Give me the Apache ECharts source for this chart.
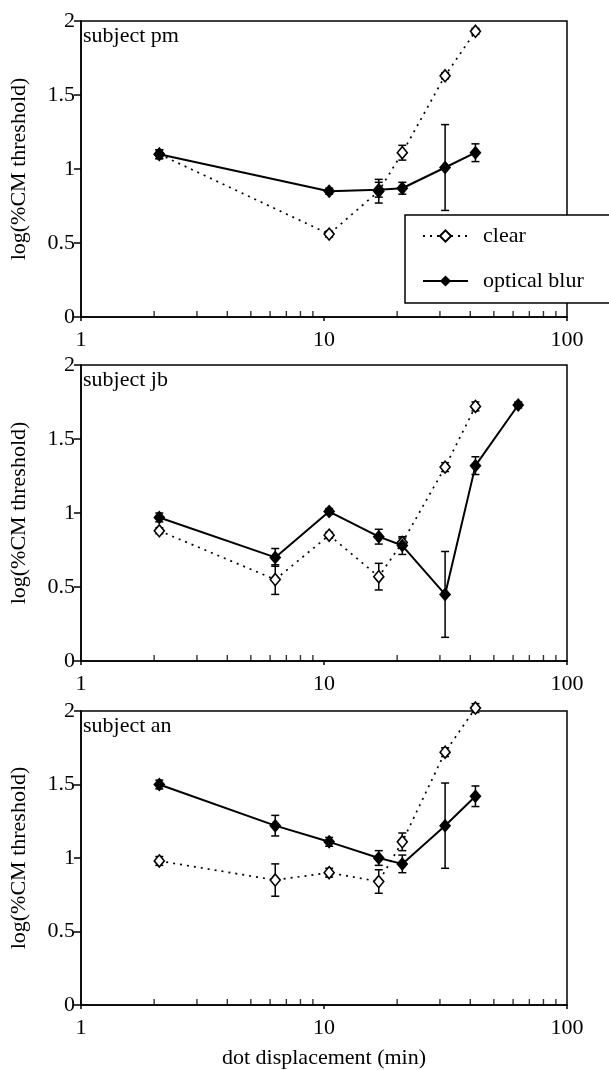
<!DOCTYPE html>
<html>
<head>
<meta charset="utf-8">
<script src="https://cdn.jsdelivr.net/npm/echarts@6/dist/echarts.min.js"></script>
<style>
  html, body { margin: 0; padding: 0; background: #fff; }
  #chart { width: 609px; height: 1070px; }
</style>
</head>
<body>
<div id="chart"></div>
<script>
// dot displacement (min) for each subject
const xPm = [2.1, 10.5, 16.8, 21, 31.5, 42];
const pmClear = [1.10, 0.56, 0.85, 1.11, 1.63, 1.93];
const pmClearErr = [0.03, 0.02, 0.08, 0.05, 0.02, 0.02];
const pmBlur = [1.10, 0.85, 0.86, 0.87, 1.01, 1.11];
const pmBlurErr = [0.03, 0.02, 0.05, 0.04, 0.29, 0.06];

const xJbClear = [2.1, 6.3, 10.5, 16.8, 21, 31.5, 42];
const jbClear = [0.88, 0.55, 0.85, 0.57, 0.80, 1.31, 1.72];
const jbClearErr = [0.02, 0.10, 0.02, 0.09, 0.03, 0.03, 0.03];
const xJbBlur = [2.1, 6.3, 10.5, 16.8, 21, 31.5, 42, 63];
const jbBlur = [0.97, 0.70, 1.01, 0.84, 0.78, 0.45, 1.32, 1.73];
const jbBlurErr = [0.03, 0.06, 0.02, 0.05, 0.06, 0.29, 0.06, 0.02];

const xAn = [2.1, 6.3, 10.5, 16.8, 21, 31.5, 42];
const anClear = [0.98, 0.85, 0.90, 0.84, 1.11, 1.72, 2.02];
const anClearErr = [0.03, 0.11, 0.03, 0.08, 0.06, 0.03, 0.03];
const anBlur = [1.50, 1.22, 1.11, 1.00, 0.96, 1.22, 1.42];
const anBlurErr = [0.03, 0.07, 0.03, 0.05, 0.06, 0.29, 0.07];

const subjects = ['subject pm', 'subject jb', 'subject an'];
const minorTicks = [2, 3, 4, 5, 6, 7, 8, 9, 20, 30, 40, 50, 60, 70, 80, 90];
const yTitle = 'log(%CM threshold)';
const xTitle = 'dot displacement (min)';

const FONT = 'Liberation Serif';
const FS = 22;
const gridTops = [21, 365, 711];
const gridHeight = 296;

const chart = echarts.init(document.getElementById('chart'));

const zip = (xs, ys) => xs.map((x, i) => [x, ys[i]]);

function errorSeries(xs, ys, errs, idx) {
    return {
        type: 'custom',
        xAxisIndex: idx,
        yAxisIndex: idx,
        silent: true,
        clip: false,
        z: 3,
        data: xs.map((x, i) => [x, ys[i] - errs[i], ys[i] + errs[i]]),
        encode: { x: 0, y: [1, 2] },
        renderItem: function (params, api) {
            const lo = api.coord([api.value(0), api.value(1)]);
            const hi = api.coord([api.value(0), api.value(2)]);
            const w = 4;
            const style = { stroke: '#000', lineWidth: 1.5 };
            return {
                type: 'group',
                children: [
                    { type: 'line', shape: { x1: lo[0], y1: lo[1], x2: hi[0], y2: hi[1] }, style: style },
                    { type: 'line', shape: { x1: lo[0] - w, y1: lo[1], x2: lo[0] + w, y2: lo[1] }, style: style },
                    { type: 'line', shape: { x1: hi[0] - w, y1: hi[1], x2: hi[0] + w, y2: hi[1] }, style: style }
                ]
            };
        }
    };
}

function clearSeries(data, idx) {
    return {
        name: 'clear',
        type: 'line',
        xAxisIndex: idx,
        yAxisIndex: idx,
        data: data,
        clip: false,
        symbol: 'diamond',
        symbolSize: [10, 12],
        lineStyle: { color: '#000', width: 1.7, type: [2, 5] },
        itemStyle: { color: '#fff', borderColor: '#000', borderWidth: 1.6 },
        z: 4
    };
}

function blurSeries(data, idx) {
    return {
        name: 'optical blur',
        type: 'line',
        xAxisIndex: idx,
        yAxisIndex: idx,
        data: data,
        clip: false,
        symbol: 'diamond',
        symbolSize: [12, 14],
        lineStyle: { color: '#000', width: 2 },
        itemStyle: { color: '#000', borderColor: '#000', borderWidth: 0 },
        z: 5
    };
}

function minorTickSeries(idx) {
    return {
        type: 'scatter',
        xAxisIndex: idx,
        yAxisIndex: idx,
        silent: true,
        symbol: 'rect',
        symbolSize: [1.4, 6],
        symbolOffset: [0, -3],
        itemStyle: { color: '#000' },
        data: minorTicks.map(v => [v, 0]),
        z: 6
    };
}

const grids = gridTops.map(top => ({
    left: 81, right: 42, top: top, height: gridHeight,
    show: true, borderColor: '#000', borderWidth: 1.5, backgroundColor: 'transparent'
}));

const xAxes = gridTops.map((t, i) => ({
    type: 'log',
    logBase: 10,
    gridIndex: i,
    min: 1,
    max: 100,
    name: i === 2 ? xTitle : '',
    nameLocation: 'middle',
    nameGap: 42,
    nameTextStyle: { fontFamily: FONT, fontSize: FS, color: '#000' },
    axisLine: { lineStyle: { color: '#000', width: 1.5 } },
    axisTick: { show: true, inside: false, length: 4, lineStyle: { color: '#000', width: 1.5 } },
    axisLabel: { fontFamily: FONT, fontSize: FS, color: '#000', margin: 12 },
    splitLine: { show: false },
    minorTick: { show: false }
}));

const yAxes = gridTops.map((t, i) => ({
    type: 'value',
    gridIndex: i,
    min: 0,
    max: 2,
    interval: 0.5,
    name: yTitle,
    nameLocation: 'middle',
    nameGap: 51,
    nameTextStyle: { fontFamily: FONT, fontSize: FS, color: '#000' },
    axisLine: { show: true, lineStyle: { color: '#000', width: 1.5 } },
    axisTick: { show: true, length: 7, lineStyle: { color: '#000', width: 1.5 } },
    axisLabel: { fontFamily: FONT, fontSize: FS, color: '#000', margin: 6 },
    splitLine: { show: false }
}));

const titles = subjects.map((s, i) => ({
    text: s,
    left: 83,
    top: gridTops[i] + 4,
    padding: 0,
    textStyle: { fontFamily: FONT, fontSize: FS, fontWeight: 'normal', color: '#000' }
}));

const series = [
    errorSeries(xPm, pmClear, pmClearErr, 0),
    errorSeries(xPm, pmBlur, pmBlurErr, 0),
    clearSeries(zip(xPm, pmClear), 0),
    blurSeries(zip(xPm, pmBlur), 0),
    minorTickSeries(0),

    errorSeries(xJbClear, jbClear, jbClearErr, 1),
    errorSeries(xJbBlur, jbBlur, jbBlurErr, 1),
    clearSeries(zip(xJbClear, jbClear), 1),
    blurSeries(zip(xJbBlur, jbBlur), 1),
    minorTickSeries(1),

    errorSeries(xAn, anClear, anClearErr, 2),
    errorSeries(xAn, anBlur, anBlurErr, 2),
    clearSeries(zip(xAn, anClear), 2),
    blurSeries(zip(xAn, anBlur), 2),
    minorTickSeries(2)
];

chart.setOption({
    animation: false,
    backgroundColor: '#fff',
    title: titles,
    grid: grids,
    xAxis: xAxes,
    yAxis: yAxes,
    legend: {
        data: ['clear', 'optical blur'],
        orient: 'vertical',
        left: 405,
        top: 215,
        itemWidth: 45,
        itemHeight: 14,
        itemGap: 23,
        padding: [10, 40, 11, 17],
        backgroundColor: '#fff',
        borderColor: '#000',
        borderWidth: 1.5,
        borderRadius: 0,
        selectedMode: false,
        z: 10,
        textStyle: { fontFamily: FONT, fontSize: FS, color: '#000', padding: [0, 0, 0, 10] }
    },
    series: series
});
</script>
</body>
</html>
